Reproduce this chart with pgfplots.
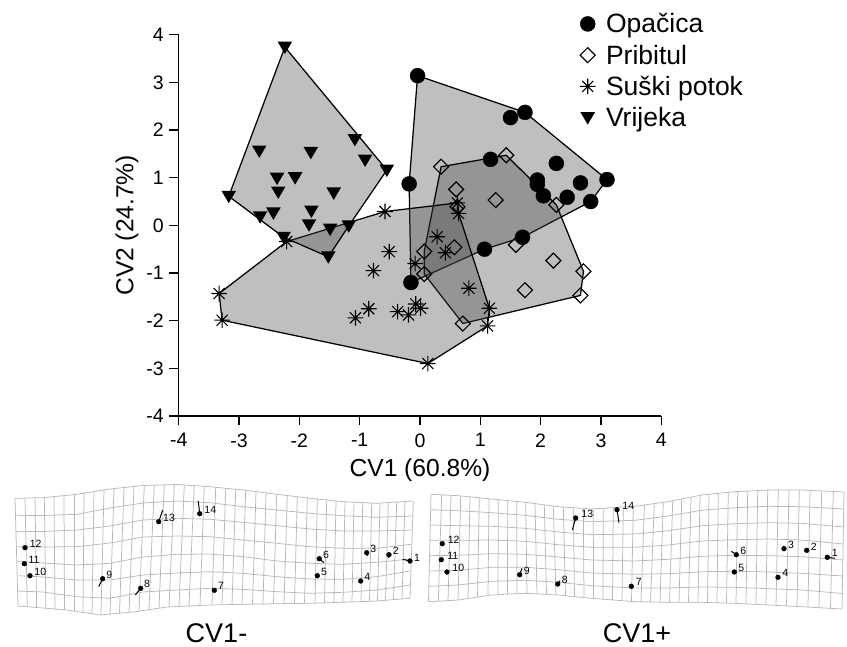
\documentclass[border=0pt]{standalone}
\usepackage{fontspec}
\setmainfont{Liberation Sans}
\usepackage{pgfplots}
\pgfplotsset{compat=1.18}
\definecolor{hullfill}{gray}{0.265}
\definecolor{gridgray}{gray}{0.72}
\pgfdeclareplotmark{ast8}{%
  \pgfpathmoveto{\pgfqpoint{-\pgfplotmarksize}{0pt}}\pgfpathlineto{\pgfqpoint{\pgfplotmarksize}{0pt}}%
  \pgfpathmoveto{\pgfqpoint{0pt}{-\pgfplotmarksize}}\pgfpathlineto{\pgfqpoint{0pt}{\pgfplotmarksize}}%
  \pgfpathmoveto{\pgfqpoint{-.7071\pgfplotmarksize}{-.7071\pgfplotmarksize}}\pgfpathlineto{\pgfqpoint{.7071\pgfplotmarksize}{.7071\pgfplotmarksize}}%
  \pgfpathmoveto{\pgfqpoint{-.7071\pgfplotmarksize}{.7071\pgfplotmarksize}}\pgfpathlineto{\pgfqpoint{.7071\pgfplotmarksize}{-.7071\pgfplotmarksize}}%
  \pgfusepathqstroke}
\pgfdeclareplotmark{dia}{%
  \pgfpathmoveto{\pgfqpoint{0pt}{\pgfplotmarksize}}\pgfpathlineto{\pgfqpoint{\pgfplotmarksize}{0pt}}%
  \pgfpathlineto{\pgfqpoint{0pt}{-\pgfplotmarksize}}\pgfpathlineto{\pgfqpoint{-\pgfplotmarksize}{0pt}}\pgfpathclose
  \pgfusepathqstroke}
\pgfdeclareplotmark{tridown}{%
  \pgfpathmoveto{\pgfqpoint{-\pgfplotmarksize}{.75\pgfplotmarksize}}\pgfpathlineto{\pgfqpoint{\pgfplotmarksize}{.75\pgfplotmarksize}}%
  \pgfpathlineto{\pgfqpoint{0pt}{-.95\pgfplotmarksize}}\pgfpathclose
  \pgfusepathqfill}
\newcommand{\V}[4]{\addplot[grd] coordinates {(#1,#2)(#3,#4)};}
\pgfplotsset{
 grd/.style={draw=gridgray,line width=0.75pt,forget plot,no marks},
 hull/.style={draw=black,line width=1.25pt,fill=hullfill,fill opacity=0.34,draw opacity=1,forget plot,no marks},
 lmk/.style={only marks,mark=*,mark size=2.4pt,mark options={black,fill=black},forget plot},
 tail/.style={draw=black,line width=1pt,forget plot,no marks},
}
\tikzset{lab/.style={font=\fontsize{10.5}{12}\selectfont,inner sep=0pt,anchor=center}}
\begin{document}
\begin{tikzpicture}
\path[use as bounding box] (0pt,0pt) rectangle (847pt,647pt);
% deformation grids, in picture pixels
\begin{axis}[at={(0pt,0pt)},anchor=south west,scale only axis,width=847pt,height=647pt,
  xmin=0,xmax=847,ymin=0,ymax=647,y dir=reverse,hide axis,clip=false]
% left grid: rows
\addplot[grd] coordinates {(15,498.3)(43,497.7)(77,494.3)(110,489)(143,485.5)(177,484.5)(210,486.7)(243,490)(277,494.3)(310,498.3)(343,501.7)(377,503.3)(413,501)};
\addplot[grd] coordinates {(16.7,515.7)(43,515.5)(77,514.3)(110,508)(143,503)(177,501)(210,502.7)(243,506.7)(277,510)(310,513.3)(343,515.7)(377,517.3)(413,516)};
\addplot[grd] coordinates {(16,531.7)(43,531.5)(77,530)(110,526)(143,520)(177,518.3)(210,519.3)(243,522.3)(277,525.7)(310,529)(343,531)(377,531)(412,530)};
\addplot[grd] coordinates {(16,546.7)(43,547)(77,546.7)(110,543)(143,537)(177,536)(210,536.7)(243,540)(277,543.3)(310,546.7)(343,548.3)(377,548.3)(411,544.3)};
\addplot[grd] coordinates {(17,561)(43,563)(77,565)(110,563.3)(143,557)(177,554.3)(210,554)(243,556.7)(277,561)(310,563.3)(343,564.3)(377,562.3)(410,559)};
\addplot[grd] coordinates {(19,575.7)(43,577)(77,580)(110,580)(143,575)(177,573)(210,571.7)(243,573.3)(277,576.7)(310,579)(343,579.3)(377,576.7)(410,571)};
\addplot[grd] coordinates {(17,591)(43,592)(77,596.7)(110,598.3)(143,592)(177,590)(210,588.3)(243,589.3)(277,591.7)(310,593.3)(343,592.3)(377,590)(410,585)};
\addplot[grd] coordinates {(18,606)(67,610)(100,615)(133,612)(167,607)(210,605)(243,604.3)(277,603.7)(310,603.3)(343,602.3)(377,601)(410,598.3)};
% left grid: columns
\V{15}{498.3}{18}{606}\V{25}{498}{27.3}{606.8}\V{35}{497.9}{36.6}{607.5}\V{44.3}{497.6}{45.9}{608.3}
\V{54}{496.6}{55}{609}\V{64}{495.6}{64.5}{609.8}\V{74}{494.6}{74}{611}\V{84}{493.2}{83}{612.4}
\V{94}{491.6}{92}{613.8}\V{104}{490}{101}{615}\V{114}{488.6}{110}{614.3}\V{124}{487.5}{119.5}{613.3}
\V{134}{486.4}{129}{612.4}\V{144.3}{485.5}{139}{611}\V{154.3}{485.2}{149}{609.6}\V{164.3}{484.9}{159}{608.2}
\V{174.3}{484.6}{169}{606.9}\V{184.3}{485}{179}{606.4}\V{194.3}{485.7}{189}{605.9}\V{204.3}{486.4}{200}{605.5}
\V{215.7}{487.3}{212}{605}\V{225.7}{488.2}{222}{604.7}\V{235.7}{489.3}{232}{604.5}\V{245.7}{490.4}{242}{604.3}
\V{256}{491.6}{252.5}{604.1}\V{266}{492.9}{263}{604}\V{276.7}{494.3}{273.5}{603.8}\V{287.3}{495.6}{284}{603.6}
\V{297.3}{496.8}{294.5}{603.5}\V{307.3}{498}{304.5}{603.4}\V{317.3}{499}{315}{603.2}\V{326.7}{500}{324.5}{602.9}
\V{336}{501}{334}{602.6}\V{345}{501.8}{343}{602.3}\V{354}{502.2}{352}{602}\V{362.7}{502.6}{361}{601.6}
\V{371.7}{503}{369.5}{601.3}\V{380}{503.1}{377.5}{601}\V{388.3}{502.7}{385.5}{600.3}\V{396.7}{502}{393.5}{599.7}
\V{405}{501.5}{402}{599}\V{413.3}{501}{410}{598.3}
% right grid: rows
\addplot[grd] coordinates {(431,494.3)(458.3,495.7)(491.7,499)(525,502.3)(558.3,506.7)(591.7,509)(635,506.3)(668.3,501.7)(701.7,495)(735,491.7)(768.3,490)(801.7,490)(844,492)};
\addplot[grd] coordinates {(431,509.7)(458.3,510.7)(491.7,512.7)(525,515.3)(558.3,519.3)(591.7,521.7)(635,520.3)(668.3,516)(701.7,510.3)(735,507.7)(768.3,506.3)(801.7,506.7)(843.5,509)};
\addplot[grd] coordinates {(430,525)(458.3,525.7)(491.7,526.3)(525,528.3)(558.3,532)(591.7,534.7)(635,534)(668.3,530.7)(701.7,525.7)(735,523.7)(768.3,522.7)(801.7,523.3)(843.5,527)};
\addplot[grd] coordinates {(429,540.3)(458.3,540.3)(491.7,540)(525,541.3)(558.3,544.7)(591.7,547.3)(635,547.3)(668.3,545)(701.7,541)(735,539.7)(768.3,539)(801.7,540)(843,544)};
\addplot[grd] coordinates {(429,555.7)(458.3,555.3)(491.7,553.7)(525,554.3)(558.3,557)(591.7,560)(635,561)(668.3,559.3)(701.7,556.3)(735,555.3)(768.3,555.7)(801.7,556.7)(843,560)};
\addplot[grd] coordinates {(429,571)(458.3,570.3)(491.7,567.3)(525,567.3)(558.3,569.7)(591.7,573)(635,574.3)(668.3,573.7)(701.7,571.7)(735,571.3)(768.3,572)(801.7,573.3)(842.5,576)};
\addplot[grd] coordinates {(428.5,586.3)(458.3,585)(491.7,581.3)(525,580.3)(558.3,582.3)(591.7,585.7)(635,588)(668.3,588)(701.7,587)(735,587.3)(768.3,588.7)(801.7,590)(842.5,593.5)};
\addplot[grd] coordinates {(428.5,601.7)(458.3,600)(491.7,595)(525,593.3)(558.3,595)(591.7,598.3)(635,601.7)(668.3,602.3)(701.7,602.3)(735,603.3)(768.3,605)(801.7,606.7)(842,609)};
% right grid: columns
\V{431}{494.3}{428.5}{601.7}\V{441.7}{494.8}{438.3}{601.1}\V{451}{495.3}{448}{600.6}\V{460.7}{496}{458}{600}
\V{470}{497}{468}{598.6}\V{479.3}{497.9}{477.5}{597}\V{489}{498.7}{488}{595.5}\V{498.3}{499.7}{498}{594.6}
\V{507.7}{500.6}{507.5}{594.1}\V{516.7}{501.5}{517}{593.7}\V{525.7}{502.4}{527}{593.4}\V{535}{503.6}{537}{594}
\V{544.3}{504.9}{546.5}{594.4}\V{553.3}{506}{556}{594.9}\V{563.3}{507}{565.5}{595.7}\V{573.3}{507.7}{574.5}{596.6}
\V{583.3}{508.4}{584}{597.5}\V{593.3}{508.9}{593.5}{598.4}\V{603.3}{508.3}{603}{599.2}\V{613.3}{507.7}{612.5}{599.9}
\V{623.3}{507}{622}{600.6}\V{633.3}{506.4}{631.5}{601.4}\V{644.5}{505}{641}{601.8}\V{654.3}{503.6}{650.5}{602}
\V{663.3}{502.4}{660}{602.1}\V{672.7}{500.8}{669.5}{602.3}\V{681.7}{499}{679}{602.3}\V{691}{497.2}{688.5}{602.3}
\V{700}{495.4}{698}{602.3}\V{709}{494.4}{707.5}{602.5}\V{718.3}{493.4}{717}{602.8}\V{728.3}{492.4}{726.5}{603.1}
\V{737.7}{491.6}{736}{603.3}\V{747.7}{491}{746}{603.9}\V{757.7}{490.5}{756}{604.4}\V{767.7}{490}{766}{604.9}
\V{778.3}{490}{776}{605.4}\V{789}{490}{786.5}{605.9}\V{799.3}{490}{797}{606.5}\V{810}{490.4}{808}{607}
\V{821.7}{491}{819}{607.6}\V{833.3}{491.6}{830.5}{608.3}\V{844}{492}{842}{609}
% tails left
\addplot[tail] coordinates {(410,561)(402.7,559.3)};
\addplot[tail] coordinates {(389,554.7)(388.3,557.7)};
\addplot[tail] coordinates {(366.7,552.7)(367.3,556)};
\addplot[tail] coordinates {(319.3,558.7)(324,562.7)};
\addplot[tail] coordinates {(140.7,588.3)(135.3,595)};
\addplot[tail] coordinates {(102.7,578.7)(98.7,586.7)};
\addplot[tail] coordinates {(158.7,521.7)(162.7,510)};
\addplot[tail] coordinates {(199.7,513.7)(198.3,501)};
% tails right
\addplot[tail] coordinates {(827.3,557.3)(835,558.3)};
\addplot[tail] coordinates {(784,548.7)(783.3,546)};
\addplot[tail] coordinates {(736.3,554.7)(731.3,551.3)};
\addplot[tail] coordinates {(557.7,584)(560,580.7)};
\addplot[tail] coordinates {(519.7,574.7)(522,568.3)};
\addplot[tail] coordinates {(575.7,518)(572.3,530)};
\addplot[tail] coordinates {(617,509.7)(619,522.7)};
% landmarks
\addplot[lmk] coordinates {(410,561)(389,554.7)(366.7,552.7)(360.7,581)(317.3,575.7)(319.3,558.7)(214.3,590.3)(140.7,588.3)(102.7,578.7)(30,575.7)(24.3,563.7)(25,547.7)(158.7,521.7)(199.7,513.7)};
\addplot[lmk] coordinates {(827.3,557.3)(806.7,550.3)(784,548.7)(778,577.3)(734.3,572)(736.3,554.7)(631.3,586.3)(557.7,584)(519.7,574.7)(447,572)(441.3,559.7)(442.3,543.7)(575.7,518)(617,509.7)};
\node[lab] at (axis cs:417,557.7) {1};
\node[lab] at (axis cs:395.7,550.7) {2};
\node[lab] at (axis cs:373.3,549) {3};
\node[lab] at (axis cs:367.3,577.3) {4};
\node[lab] at (axis cs:324,571.7) {5};
\node[lab] at (axis cs:326,554.7) {6};
\node[lab] at (axis cs:221,586) {7};
\node[lab] at (axis cs:147,584.3) {8};
\node[lab] at (axis cs:109.3,574.7) {9};
\node[lab] at (axis cs:40.3,572) {10};
\node[lab] at (axis cs:34,560) {11};
\node[lab] at (axis cs:35.7,543.7) {12};
\node[lab] at (axis cs:169,518) {13};
\node[lab] at (axis cs:210.3,509.7) {14};
\node[lab] at (axis cs:834.7,553.3) {1};
\node[lab] at (axis cs:813.7,546.7) {2};
\node[lab] at (axis cs:791,545) {3};
\node[lab] at (axis cs:785.3,573.3) {4};
\node[lab] at (axis cs:741.3,567.7) {5};
\node[lab] at (axis cs:743.3,551) {6};
\node[lab] at (axis cs:638.7,582.3) {7};
\node[lab] at (axis cs:564.7,580.3) {8};
\node[lab] at (axis cs:526.7,570.7) {9};
\node[lab] at (axis cs:458.3,567.7) {10};
\node[lab] at (axis cs:452.7,555.7) {11};
\node[lab] at (axis cs:453.7,540) {12};
\node[lab] at (axis cs:587.3,514) {13};
\node[lab] at (axis cs:628.3,505.7) {14};
\node[font=\fontsize{27}{30}\selectfont,inner sep=0pt] at (axis cs:216.5,633) {CV1-};
\node[font=\fontsize{27}{30}\selectfont,inner sep=0pt] at (axis cs:637,633) {CV1+};
\end{axis}
% main ordination plot
\begin{axis}[at={(178.7pt,231pt)},anchor=south west,scale only axis,width=482.6pt,height=381.3pt,
  xmin=-4,xmax=4,ymin=-4,ymax=4,clip=false,
  axis x line=bottom,axis y line=left,axis line style={-,line width=1.3pt,black},
  tick style={line width=1.3pt,black},tick align=outside,major tick length=9.5pt,
  xtick={-4,...,4},ytick={-4,...,4},
  xticklabels={-4,-3,-2,-1,0,1,2,3,4},yticklabels={-4,-3,-2,-1,0,1,2,3,4},
  ticklabel style={font=\fontsize{19.5}{22}\selectfont},
  xticklabel style={yshift=-4.5pt},yticklabel style={xshift=-2pt},
  xlabel={CV1 (60.8\%)},ylabel={CV2 (24.7\%)},
  every axis x label/.style={at={(axis description cs:0.5,-0.142)},anchor=center,font=\fontsize{24.6}{28}\selectfont},
  every axis y label/.style={at={(axis description cs:-0.107,0.5)},anchor=center,rotate=90,font=\fontsize{24.6}{28}\selectfont},
  legend style={at={(0.831,1.06)},anchor=north west,draw=none,fill=none,
    font=\fontsize{26.5}{28}\selectfont,row sep=7.5pt,inner sep=0pt,
    nodes={inner sep=1.5pt,inner xsep=10.5pt}},
  legend cell align=left]
\addplot[hull] coordinates {(-0.04,3.14)(1.74,2.37)(3.10,0.96)(2.83,0.50)(1.70,-0.25)(1.07,-0.50)(-0.15,-1.20)(-0.18,0.87)} -- cycle;
\addplot[hull] coordinates {(0.35,1.23)(1.43,1.47)(2.26,0.43)(2.71,-0.965)(2.66,-1.47)(0.71,-2.06)(0.07,-1.02)(0.07,-0.55)} -- cycle;
\addplot[hull] coordinates {(-0.58,0.29)(0.62,0.47)(0.64,0.25)(1.15,-1.74)(1.12,-2.11)(0.13,-2.90)(-3.28,-1.99)(-3.33,-1.43)(-2.21,-0.34)} -- cycle;
\addplot[hull] coordinates {(-2.24,3.74)(-0.55,1.16)(-1.18,-0.01)(-1.52,-0.66)(-2.26,-0.25)(-3.17,0.61)} -- cycle;
\addplot[only marks,mark=*,mark size=7.5pt,mark options={black,fill=black}] coordinates {
(-0.04,3.14)(1.50,2.26)(1.74,2.37)(2.26,1.30)(1.17,1.385)(1.945,0.95)(1.945,0.86)(2.045,0.62)(2.44,0.59)(2.66,0.89)(3.10,0.96)(2.83,0.50)(-0.18,0.87)(1.70,-0.25)(1.07,-0.50)(-0.15,-1.20)};
\addlegendentry{Opačica}
\addplot[only marks,mark=dia,mark size=7.5pt,mark options={black,line width=1.2pt}] coordinates {
(0.35,1.23)(1.43,1.47)(0.60,0.755)(1.255,0.53)(2.26,0.43)(0.62,0.39)(1.59,-0.41)(0.57,-0.46)(0.07,-0.55)(0.07,-1.02)(2.21,-0.74)(2.71,-0.965)(1.74,-1.36)(2.66,-1.47)(0.71,-2.06)};
\addlegendentry{Pribitul}
\addplot[only marks,mark=ast8,mark size=7.8pt,mark options={black,line width=1.1pt}] coordinates {
(-0.58,0.29)(-2.21,-0.34)(-0.51,-0.55)(-0.77,-0.95)(-3.33,-1.43)(-3.28,-1.99)(-0.85,-1.75)(-1.07,-1.94)(-0.37,-1.81)(-0.19,-1.88)(-0.07,-1.65)(0.01,-1.74)(0.13,-2.90)(-0.08,-0.80)(0.285,-0.24)(0.42,-0.575)(0.62,0.47)(0.64,0.25)(0.81,-1.32)(1.15,-1.74)(1.12,-2.11)};
\addlegendentry{Suški potok}
\addplot[only marks,mark=tridown,mark size=7.3pt,mark options={black,fill=black}] coordinates {
(-2.24,3.74)(-2.665,1.56)(-1.81,1.53)(-1.08,1.80)(-0.91,1.37)(-0.55,1.16)(-3.17,0.61)(-2.37,0.99)(-2.07,1.0)(-2.35,0.70)(-1.43,0.68)(-2.65,0.18)(-2.43,0.26)(-1.80,0.30)(-1.84,0.01)(-1.49,-0.08)(-1.18,-0.01)(-2.26,-0.25)(-1.52,-0.66)};
\addlegendentry{Vrijeka}
\end{axis}
\end{tikzpicture}
\end{document}
